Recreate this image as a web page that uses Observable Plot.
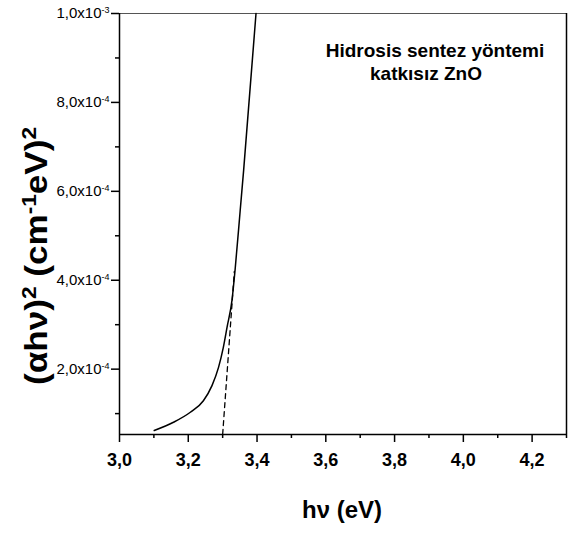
<!DOCTYPE html>
<html><head><meta charset="utf-8">
<script src="https://cdn.jsdelivr.net/npm/d3@7"></script>
<script src="https://cdn.jsdelivr.net/npm/@observablehq/plot@0.6"></script>
<style>
body{margin:0;background:#fff;}
#chart svg{display:block;}
</style></head><body><div id="chart"></div>
<script>
// Data
const hv       = [3.101, 3.157, 3.206, 3.244, 3.269, 3.288, 3.302, 3.313, 3.327, 3.336, 3.351, 3.361, 3.397];
const alphaHv2 = [6.2e-5, 8.05e-5, 1.03e-4, 1.29e-4, 1.63e-4, 2.04e-4, 2.49e-4, 2.95e-4, 3.54e-4, 4.22e-4, 5.57e-4, 6.47e-4, 1.0e-3];
const tangentHv  = [3.300, 3.334];
const tangentVal = [5.3e-5, 4.2e-4];
const xMajorTicks = [3.0, 3.2, 3.4, 3.6, 3.8, 4.0, 4.2];
const xMinorTicks = [3.1, 3.3, 3.5, 3.7, 3.9, 4.1, 4.3];
const yMajorTicks = [2e-4, 4e-4, 6e-4, 8e-4, 1e-3];
const yMinorTicks = [1e-4, 3e-4, 5e-4, 7e-4, 9e-4];
const xDomain = [3.0, 4.3];
const yDomain = [5.3e-5, 1.0e-3];
const annotation = ["Hidrosis sentez yöntemi", "katkısız ZnO"];
const xTitle = "hν (eV)";

const sansFont = "'Liberation Sans', Arial, sans-serif";
const narrowFont = "'Liberation Sans Narrow', 'Arial Narrow', 'Liberation Sans', sans-serif";

function yFmt(v) {
  const e = Math.floor(Math.log10(v) + 1e-9);
  const m = (v / Math.pow(10, e)).toFixed(1).replace(".", ",");
  return m + "x10|" + e;
}

const chart = Plot.plot({
  width: 569, height: 533,
  marginLeft: 119, marginRight: 3, marginTop: 13, marginBottom: 99,
  x: {domain: xDomain, label: null},
  y: {domain: yDomain, label: null},
  style: {fontFamily: sansFont, background: "#fff", color: "#000"},
  marks: [
    Plot.axisX(xMinorTicks, {tickSize: 4, strokeWidth: 1.5, tickFormat: () => ""}),
    Plot.axisX(xMajorTicks, {tickSize: 8, strokeWidth: 1.5, tickPadding: 11, fontSize: 18, fontWeight: "bold",
      tickFormat: d => d.toFixed(1).replace(".", ",")}),
    Plot.axisY(yMinorTicks, {tickSize: 4, strokeWidth: 1.5, tickFormat: () => ""}),
    Plot.axisY(yMajorTicks, {tickSize: 8, strokeWidth: 1.5, tickPadding: 2, fontSize: 15, tickFormat: yFmt}),
    Plot.ruleY([yDomain[1]], {stroke: "#555", strokeWidth: 1}),
    Plot.ruleX([xDomain[0]], {strokeWidth: 1.5}),
    Plot.ruleX([xDomain[1]], {strokeWidth: 1.5}),
    Plot.ruleY([yDomain[0]], {strokeWidth: 1.5}),
    Plot.line({length: tangentHv.length}, {x: tangentHv, y: tangentVal, stroke: "#000", strokeWidth: 1.3, strokeDasharray: "5,4"}),
    Plot.line({length: hv.length}, {x: hv, y: alphaHv2, stroke: "#000", strokeWidth: 1.5, curve: "monotone-x"})
  ]
});

document.getElementById("chart").appendChild(chart);
const svg = d3.select(chart);

// y tick labels with superscript exponent
svg.selectAll('g[aria-label="y-axis tick label"] text').each(function() {
  const t = d3.select(this);
  const s = t.text();
  if (!s.includes("|")) return;
  const [base, exp] = s.split("|");
  t.text("").attr("font-family", narrowFont).attr("font-size", 15);
  t.append("tspan").text(base);
  t.append("tspan").attr("baseline-shift", "super").attr("font-size", 9).text(exp);
});
svg.selectAll('g[aria-label="x-axis tick label"] text').attr("font-family", sansFont);

// y axis title
const yl = svg.append("text")
  .attr("transform", "translate(47,256) rotate(-90)")
  .attr("text-anchor", "middle")
  .attr("font-family", sansFont)
  .attr("font-weight", "bold")
  .attr("font-size", 31)
  .attr("fill", "#000")
  .attr("textLength", 258)
  .attr("lengthAdjust", "spacingAndGlyphs");
yl.append("tspan").text("(αhν)");
yl.append("tspan").attr("baseline-shift", "super").attr("font-size", 20).text("2");
yl.append("tspan").text(" (cm");
yl.append("tspan").attr("baseline-shift", "super").attr("font-size", 20).text("-1");
yl.append("tspan").text("eV)");
yl.append("tspan").attr("baseline-shift", "super").attr("font-size", 20).text("2");

// x axis title
svg.append("text")
  .attr("x", 342).attr("y", 518)
  .attr("text-anchor", "middle")
  .attr("font-family", sansFont)
  .attr("font-weight", "bold")
  .attr("font-size", 24)
  .attr("fill", "#000")
  .text(xTitle);

// annotation
svg.append("text").attr("x", 435).attr("y", 57).attr("text-anchor", "middle")
  .attr("font-family", sansFont).attr("font-weight", "bold").attr("font-size", 19).attr("fill", "#000")
  .text(annotation[0]);
svg.append("text").attr("x", 426).attr("y", 80).attr("text-anchor", "middle")
  .attr("font-family", sansFont).attr("font-weight", "bold").attr("font-size", 19).attr("fill", "#000")
  .text(annotation[1]);
</script>
</body></html>
